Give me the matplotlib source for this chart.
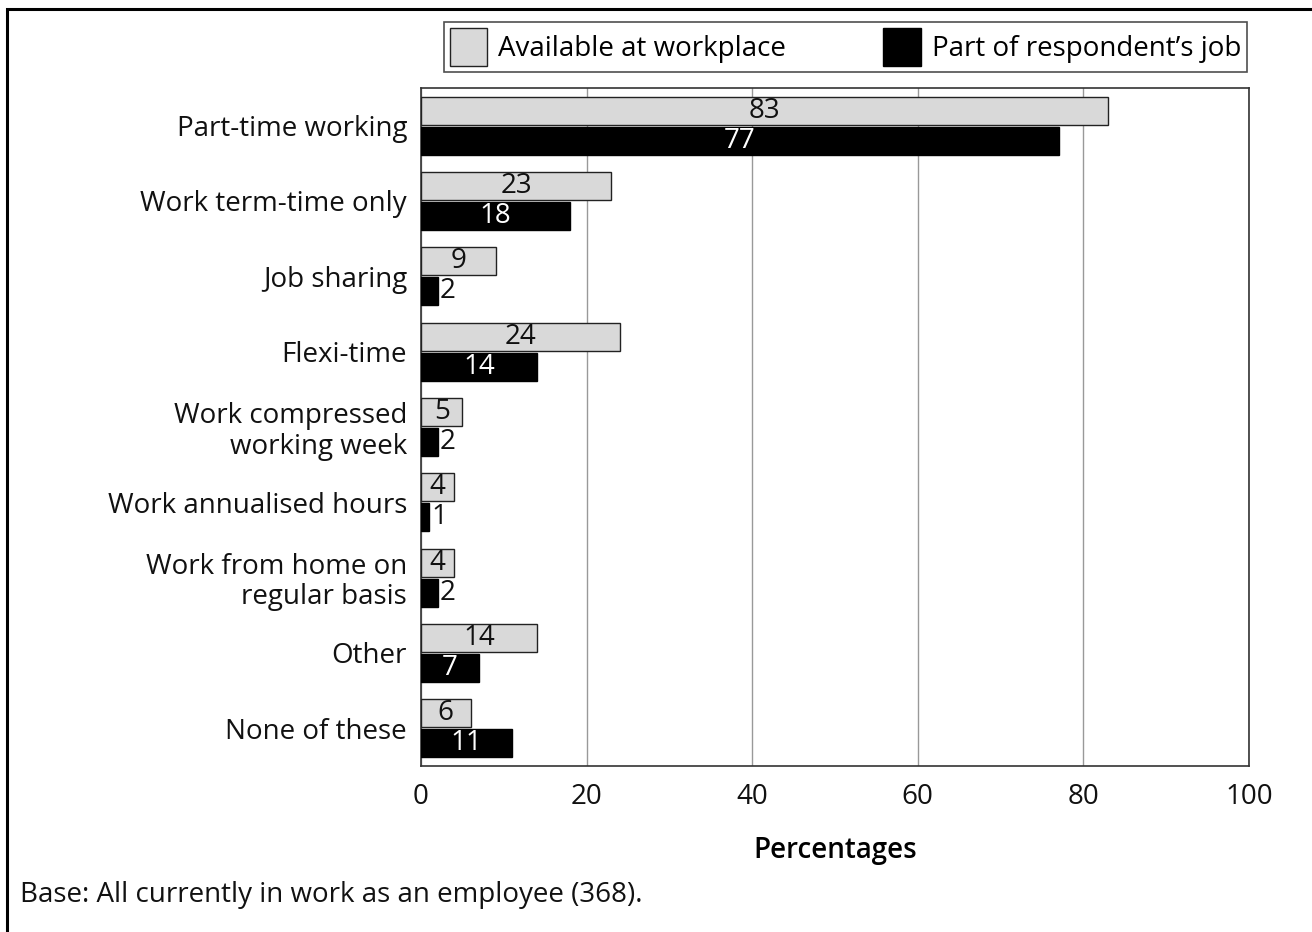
import matplotlib.pyplot as plt
import numpy as np
from matplotlib.patches import Patch, Rectangle

categories = ["Part-time working", "Work term-time only", "Job sharing", "Flexi-time",
              "Work compressed\nworking week", "Work annualised hours",
              "Work from home on\nregular basis", "Other", "None of these"]
available = [83, 23, 9, 24, 5, 4, 4, 14, 6]
part_of_job = [77, 18, 2, 14, 2, 1, 2, 7, 11]
xticks = [0, 20, 40, 60, 80, 100]

plt.rcParams['font.family'] = ['Open Sans', 'DejaVu Sans']

W, H = 1312, 932
fig = plt.figure(figsize=(W / 100, H / 100), dpi=100)
ax = fig.add_axes([421 / W, 1 - 766 / H, (1249 - 421) / W, (766 - 88) / H])

y = np.arange(len(categories))
bh = 0.37
off = 0.2
gray = '#d9d9d9'
fs = 20

ax.barh(y - off, available, height=bh, color=gray, edgecolor='#222222', linewidth=1.0, zorder=3)
ax.barh(y + off, part_of_job, height=bh, color='black', edgecolor='black', linewidth=1.0, zorder=3)

for i, v in enumerate(available):
    ax.text(v / 2, i - off, str(v), ha='center', va='center', fontsize=fs, color='#111111', zorder=4)
for i, v in enumerate(part_of_job):
    if v >= 5:
        ax.text(v / 2, i + off, str(v), ha='center', va='center', fontsize=fs, color='white', zorder=4)
    else:
        ax.text(v + 0.3, i + off, str(v), ha='left', va='center', fontsize=fs, color='#111111', zorder=4)

ax.set_xlim(0, 100)
ax.set_ylim(len(categories) - 0.5, -0.5)
ax.set_xticks(xticks)
ax.set_xticklabels([str(t) for t in xticks], fontsize=fs)
ax.set_yticks(y)
ax.set_yticklabels(categories, fontsize=fs, linespacing=1.1)
for lbl in ax.get_yticklabels():
    lbl.set_verticalalignment('center_baseline')
ax.tick_params(axis='both', length=0, colors='#111111')
ax.tick_params(axis='x', pad=12)
ax.tick_params(axis='y', pad=10)
ax.grid(axis='x', color='#999999', linewidth=1.0, zorder=0)
ax.set_axisbelow(True)
for s in ax.spines.values():
    s.set_color('#333333')
    s.set_linewidth(1.2)

ax.set_xlabel("Percentages", fontsize=fs, fontweight='semibold', labelpad=18)

handles = [Patch(facecolor=gray, edgecolor='#222222', linewidth=1.0, label='Available at workplace'),
           Patch(facecolor='black', edgecolor='black', label='Part of respondent\u2019s job')]
leg = fig.legend(handles=handles, loc='upper right', bbox_to_anchor=(1247 / W, 1 - 22 / H),
                 ncol=2, fontsize=fs, frameon=True, fancybox=False, edgecolor='#222222',
                 handlelength=1.35, handleheight=1.75, columnspacing=3.5, handletextpad=0.4,
                 borderpad=0.2, borderaxespad=0)
leg.get_frame().set_linewidth(1.2)

fig.text(20 / W, 1 - 895 / H, "Base: All currently in work as an employee (368).",
         fontsize=fs, ha='left', va='center', color='#111111')

# outer frame along the left and top edges
fig.add_artist(Rectangle((7 / W, -0.1), 1.2, 1 - 9 / H + 0.1, transform=fig.transFigure,
                         fill=False, edgecolor='black', linewidth=2.2))

fig.savefig('out.png', dpi=100)
